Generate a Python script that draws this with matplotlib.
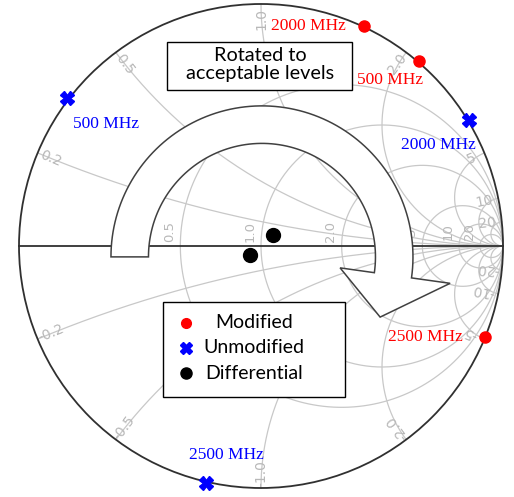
import numpy as np
import matplotlib.pyplot as plt
from matplotlib.patches import Polygon, Circle, Rectangle

mod_freq = ["2000 MHz", "500 MHz", "2500 MHz"]
mod_re = [0.426, 0.653, 0.926]
mod_im = [0.909, 0.764, -0.376]

unmod_freq = ["500 MHz", "2000 MHz", "2500 MHz"]
unmod_re = [-0.802, 0.860, -0.227]
unmod_im = [0.612, 0.521, -0.979]

diff_re = [0.050, -0.045]
diff_im = [0.045, -0.037]

# Smith chart grid values
r_values = [0.5, 1, 2, 5, 10, 20]
r_labels = ["0.5", "1.0", "2.0", "5", "10", "20"]
x_values = [0.2, 0.5, 1, 2, 5, 10, 20, -0.2, -0.5, -1, -2, -5, -10, -20]
x_labels = ["0.2", "0.5", "1.0", "2.0", "5", "10", "20",
            "-0.2", "-0.5", "-1.0", "-2.0", "-5", "-10", "-20"]

legend_names = ["Modified", "Unmodified", "Differential"]

grid_col = "#c8c8c8"
label_col = "#b8b8b8"

fig = plt.figure(figsize=(5.14, 4.97), dpi=100)
ax = fig.add_axes([0, 0, 1, 1])
ax.set_xlim(-261 / 242, 253 / 242)
ax.set_ylim(-251 / 242, 246 / 242)
ax.set_aspect("equal")
ax.axis("off")

# constant resistance circles
t = np.linspace(0, 2 * np.pi, 400)
for r in r_values:
    c = r / (1 + r)
    rad = 1 / (1 + r)
    ax.plot(c + rad * np.cos(t), rad * np.sin(t), color=grid_col, lw=0.9, zorder=1)

# constant reactance arcs
rr = np.concatenate([[0], np.logspace(-3, 4, 600)])
for x in x_values:
    z = rr + 1j * x
    g = (z - 1) / (z + 1)
    ax.plot(g.real, g.imag, color=grid_col, lw=0.9, zorder=1)

# labels of resistance circles
for r, lab in zip(r_values, r_labels):
    g0 = (r - 1) / (r + 1)
    ax.text(g0 - 0.045, 0.06, lab, rotation=90, ha="center", va="center",
            color=label_col, fontsize=9.5, zorder=1)

# labels of reactance arcs on the rim
for x, lab in zip(x_values, x_labels):
    z = 1j * x
    g = (z - 1) / (z + 1)
    th = np.degrees(np.angle(g)) % 360
    rot = th if th <= 90 else th - 180
    ax.text(0.94 * g.real, 0.94 * g.imag, lab, rotation=rot,
            rotation_mode="anchor", ha="center", va="center",
            color=label_col, fontsize=10, zorder=1)

# outer rim and real axis
ax.add_patch(Circle((0, 0), 1, fill=False, ec="#303030", lw=1.3, zorder=2))
ax.plot([-1, 1], [0, 0], color="#303030", lw=1.3, zorder=2)

# big curved arrow
ac = np.array([0.004, -0.045])
r_out, r_in = 0.624, 0.469
th_end, th_tip = np.radians(-8), np.radians(-27)
a_out = np.linspace(np.pi, th_end, 100)
a_in = a_out[::-1]
pts = [ac + r_out * np.array([np.cos(a), np.sin(a)]) for a in a_out]
pts.append(ac + 0.785 * np.array([np.cos(th_end), np.sin(th_end)]))
pts.append(ac + 0.548 * np.array([np.cos(th_tip), np.sin(th_tip)]))
pts.append(ac + 0.326 * np.array([np.cos(th_end), np.sin(th_end)]))
pts += [ac + r_in * np.array([np.cos(a), np.sin(a)]) for a in a_in]
ax.add_patch(Polygon(pts, closed=True, fc="white", ec="#404040", lw=1.1, zorder=3))

# text box
ax.add_patch(Rectangle((-0.388, 0.645), 0.764, 0.198, fc="white", ec="black",
                       lw=1, zorder=4))
ax.text(-0.004, 0.750, "Rotated to\nacceptable levels", ha="center", va="center",
        fontsize=14.3, family="Lato", linespacing=1.12, zorder=4)

# markers
ax.plot(mod_re, mod_im, "o", color="red", ms=8, ls="none", zorder=5)
ax.plot(unmod_re, unmod_im, "X", color="blue", ms=10, ls="none", zorder=5)
ax.plot(diff_re, diff_im, "o", color="black", ms=10, ls="none", zorder=5)

mod_off = [(-18, 0, "right"), (-29, -19, "center"), (-22, 0, "right")]
for fr, gx, gy, (dx, dy, ha) in zip(mod_freq, mod_re, mod_im, mod_off):
    ax.annotate(fr, (gx, gy), xytext=(dx, dy), textcoords="offset pixels",
                ha=ha, va="center", color="red", fontsize=12.5,
                family="Liberation Serif", zorder=5)

unmod_off = [(39, -26, "center"), (-31, -25, "center"), (20, 28, "center")]
for fr, gx, gy, (dx, dy, ha) in zip(unmod_freq, unmod_re, unmod_im, unmod_off):
    ax.annotate(fr, (gx, gy), xytext=(dx, dy), textcoords="offset pixels",
                ha=ha, va="center", color="blue", fontsize=12.5,
                family="Liberation Serif", zorder=5)

# legend box drawn by hand (labels are centred in the reference)
ax.add_patch(Rectangle((-0.405, -0.624), 0.752, 0.393, fc="white", ec="black",
                       lw=1, zorder=6))
leg_y = [-0.318, -0.421, -0.525]
leg_style = [("o", "red", 7), ("X", "blue", 9), ("o", "black", 8)]
for name, ly, (mk, col, ms) in zip(legend_names, leg_y, leg_style):
    ax.plot([-0.31], [ly], mk, color=col, ms=ms, zorder=7)
    ax.text(-0.029, ly, name, ha="center", va="center", fontsize=14,
            family="Lato", zorder=7)

plt.savefig("out.png", dpi=100)
